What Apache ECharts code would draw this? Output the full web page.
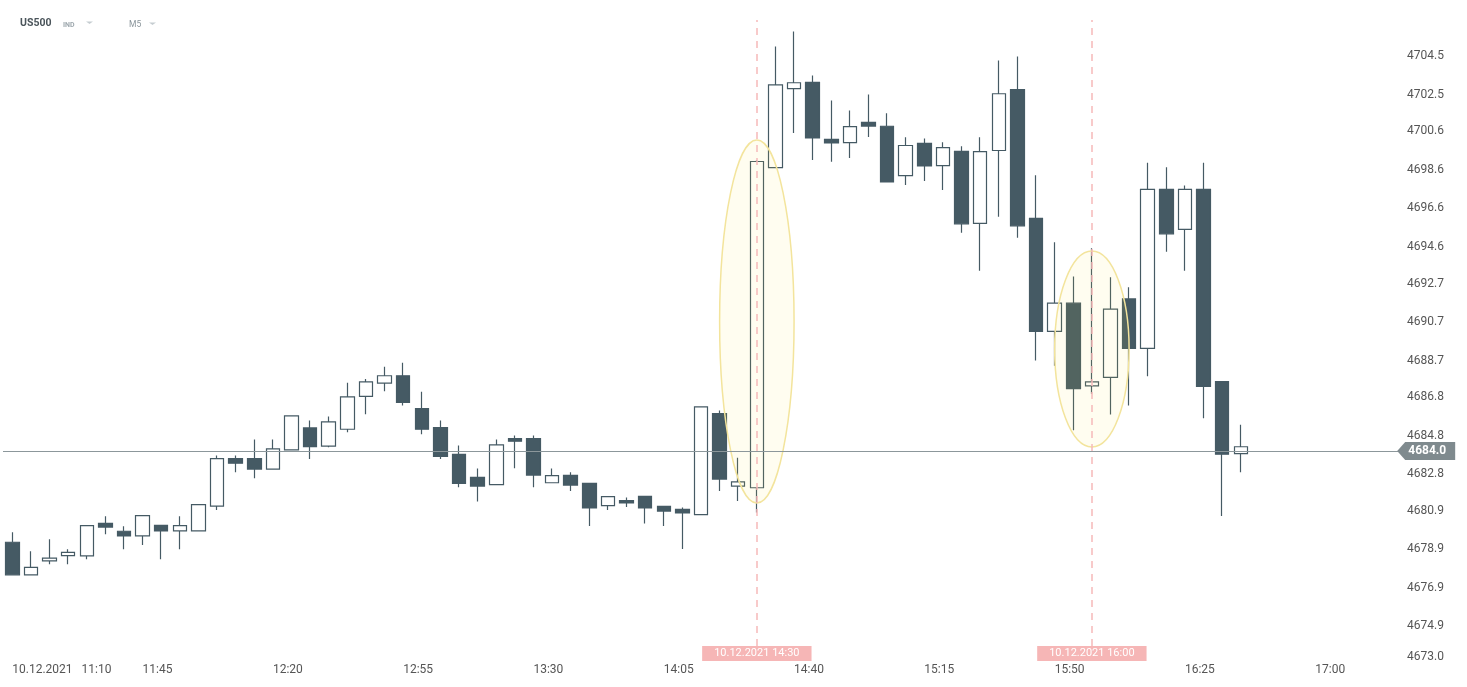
<!DOCTYPE html>
<html><head><meta charset="utf-8">
<style>html,body{margin:0;padding:0;background:#fff}#chart{width:1467px;height:687px}</style>
<script src="https://cdn.jsdelivr.net/npm/echarts@6.0.0/dist/echarts.min.js"></script>
</head><body><div id="chart"></div>
<script>
const symbolName = 'US500';
const symbolType = 'IND';
const timeframe = 'M5';
const dateLabel = '10.12.2021';

const times = [
 '11:10','11:15','11:20','11:25','11:30','11:35','11:40','11:45','11:50','11:55',
 '12:00','12:05','12:10','12:15','12:20','12:25','12:30','12:35','12:40','12:45','12:50','12:55',
 '13:00','13:05','13:10','13:15','13:20','13:25','13:30','13:35','13:40','13:45','13:50','13:55',
 '14:00','14:05','14:10','14:15','14:20','14:25','14:30','14:35','14:40','14:45','14:50','14:55',
 '15:00','15:05','15:10','15:15','15:20','15:25','15:30','15:35','15:40','15:45','15:50','15:55',
 '16:00','16:05','16:10','16:15','16:20','16:25','16:30','16:35','16:40','16:45','16:50','16:55',
 '17:00','17:05','17:10','17:15','17:20'
];

const opens = [
 4679.26,4677.57,4678.29,4678.57,4678.55,4680.24,4679.83,4679.59,4680.14,4679.85,
 4679.85,4681.14,4683.61,4683.61,4683.06,4684.06,4685.20,4684.25,4685.13,4686.84,
 4687.53,4687.91,4686.20,4685.22,4683.82,4682.63,4682.25,4684.65,4684.65,4682.35,
 4682.73,4682.32,4681.16,4681.42,4681.64,4681.12,4680.97,4680.69,4685.94,4682.18,
 4682.09,4698.72,4702.82,4703.15,4700.19,4700.02,4701.07,4700.87,4698.31,4699.98,
 4698.83,4699.57,4695.82,4699.61,4702.78,4696.08,4690.21,4691.68,4687.38,4687.82,
 4691.90,4689.33,4697.59,4695.51,4697.59,4687.60,4683.86
];
const closes = [
 4677.57,4677.95,4678.43,4678.73,4680.12,4680.05,4679.59,4680.64,4679.85,4680.12,
 4681.21,4683.60,4683.37,4683.06,4684.11,4685.82,4684.23,4685.51,4686.81,4687.59,
 4687.91,4686.53,4685.13,4683.72,4682.32,4682.18,4684.32,4684.51,4682.75,4682.72,
 4682.23,4681.04,4681.63,4681.30,4681.04,4680.88,4680.78,4686.29,4682.54,4682.40,
 4699.04,4703.02,4703.13,4700.26,4700.00,4700.85,4700.88,4697.98,4699.87,4698.81,
 4699.76,4695.80,4699.55,4702.56,4695.70,4690.21,4691.68,4687.24,4687.59,4691.37,
 4689.33,4697.59,4695.28,4697.59,4687.36,4683.83,4684.22
];
const lows = [
 4677.57,4677.57,4678.12,4678.12,4678.38,4679.67,4678.90,4679.12,4678.38,4678.90,
 4679.85,4680.93,4682.90,4682.59,4683.06,4684.06,4683.58,4684.20,4684.97,4685.91,
 4687.10,4686.37,4684.87,4683.58,4682.12,4681.38,4682.25,4683.11,4682.12,4682.35,
 4681.92,4680.10,4680.93,4681.09,4680.23,4680.10,4678.91,4680.69,4681.92,4681.40,
 4680.80,4698.72,4700.52,4699.12,4699.02,4699.22,4700.31,4697.98,4697.82,4698.03,
 4697.56,4695.34,4693.37,4696.17,4695.08,4688.70,4688.43,4685.08,4686.98,4685.89,
 4686.36,4687.88,4694.35,4693.37,4685.70,4680.62,4682.90
];
const highs = [
 4679.78,4678.79,4679.41,4678.90,4680.12,4680.61,4680.09,4680.64,4680.14,4680.61,
 4681.21,4683.77,4683.77,4684.60,4684.60,4685.82,4685.58,4685.79,4687.55,4687.74,
 4688.38,4688.59,4687.08,4685.58,4684.29,4683.09,4684.60,4684.80,4684.80,4683.09,
 4682.89,4682.32,4681.63,4681.58,4681.64,4681.12,4681.06,4686.29,4686.10,4683.65,
 4699.10,4705.01,4705.79,4703.51,4702.21,4701.69,4702.52,4701.54,4700.30,4700.24,
 4700.04,4699.83,4700.30,4704.28,4704.49,4698.33,4694.85,4693.06,4694.53,4693.03,
 4692.51,4698.98,4698.74,4697.79,4698.98,4687.60,4685.37
];

const yTicks = [4673.0,4674.9,4676.9,4678.9,4680.9,4682.8,4684.8,4686.8,4688.7,4690.7,4692.7,4694.6,4696.6,4698.6,4700.6,4702.5,4704.5];
const yMin = 4673.0;
const yMax = 4706.39;

const priceNow = 4684.0;
const markerTimes = ['14:30', '16:00'];
const markerLow = 4673.87;
const markerHigh = 4706.39;

const highlightTimes = ['14:30', '16:00'];
const highlightTop = [4700.16, 4694.39];
const highlightBottom = [4681.30, 4684.21];

const candleData = opens.map((o, i) => [o, closes[i], lows[i], highs[i]]);
const ellipseData = highlightTimes.map((t, i) => [times.indexOf(t), highlightTop[i], highlightBottom[i]]);

const FONT = 'Roboto';
const chart = echarts.init(document.getElementById('chart'), null, {renderer: 'canvas'});

chart.setOption({
  animation: false,
  backgroundColor: '#ffffff',
  grid: {left: 3, right: 68, top: 20, bottom: 24.25, containLabel: false},
  graphic: [
    {type: 'text', left: 20, top: 18, style: {text: symbolName, font: 'bold 10.5px Roboto', fill: '#4b555b'}},
    {type: 'text', left: 63, top: 21.5, style: {text: symbolType, font: 'bold 7px Roboto', fill: '#9ea8ae'}},
    {type: 'polygon', shape: {points: [[86, 21.5], [93, 21.5], [89.5, 24]]}, style: {fill: '#c6cdd1'}},
    {type: 'text', left: 129, top: 20.5, style: {text: timeframe, font: '8.5px Roboto', fill: '#8a959b'}},
    {type: 'polygon', shape: {points: [[149, 22.5], [156, 22.5], [152.5, 25]]}, style: {fill: '#c6cdd1'}}
  ],
  xAxis: {
    type: 'category',
    data: times,
    boundaryGap: true,
    axisLine: {show: false},
    axisTick: {show: false},
    splitLine: {show: false},
    axisLabel: {
      interval: 6,
      align: 'left',
      margin: 1,
      color: '#555',
      fontSize: 12,
      fontFamily: FONT,
      formatter: (v, i) => i === 0 ? dateLabel + '   ' + v : v
    }
  },
  yAxis: {
    type: 'value',
    position: 'right',
    min: yMin,
    max: yMax,
    scale: true,
    axisLine: {show: false},
    axisTick: {show: false},
    splitLine: {show: false},
    axisLabel: {
      customValues: yTicks,
      margin: 8,
      color: '#555',
      fontSize: 12,
      fontFamily: FONT,
      verticalAlignMinLabel: 'bottom',
      formatter: v => Number(v).toFixed(1)
    }
  },
  series: [
    {
      type: 'line', data: [], z: 1, clip: false, silent: true,
      markLine: {
        silent: true, symbol: ['none', 'none'],
        label: {show: false},
        lineStyle: {color: '#8c979b', width: 1, type: 'solid'},
        data: [{yAxis: priceNow}]
      },
      markPoint: {
        silent: true,
        data: [{coord: [times[times.length - 1], priceNow], value: priceNow}],
        symbol: 'path://M0,9L8,0L58,0L58,18L8,18Z',
        symbolSize: [58, 18],
        symbolKeepAspect: false,
        symbolOffset: [36.5, 0],
        itemStyle: {color: '#7f8a8e'},
        label: {show: true, position: 'inside', color: '#fff', fontSize: 12, fontWeight: 'bold', fontFamily: FONT,
          offset: [1, 0], formatter: p => Number(p.value).toFixed(1)}
      }
    },
    {
      type: 'candlestick',
      z: 2,
      data: candleData,
      barWidth: 14,
      itemStyle: {
        color: '#ffffff',
        color0: '#455a64',
        borderColor: '#455a64',
        borderColor0: '#455a64',
        borderWidth: 1.2
      }
    },
    {
      type: 'custom',
      z: 3,
      silent: true,
      data: ellipseData,
      encode: {x: 0, y: [1, 2]},
      renderItem: (params, api) => {
        const a = api.coord([api.value(0), api.value(1)]);
        const b = api.coord([api.value(0), api.value(2)]);
        const bw = api.size([1, 0])[0];
        return {
          type: 'ellipse',
          shape: {cx: a[0], cy: (a[1] + b[1]) / 2, rx: bw * 2.0, ry: (b[1] - a[1]) / 2},
          style: {fill: 'rgba(255,228,60,0.075)', stroke: '#f3e49c', lineWidth: 1.5}
        };
      }
    },
    {
      type: 'line', data: [], z: 4, clip: false, silent: true,
      markLine: {
        silent: true, symbol: ['none', 'none'],
        lineStyle: {color: '#f6b9b9', width: 1.5, type: [7, 6]},
        label: {
          show: true, position: 'start', distance: 0,
          formatter: '{b}', color: '#ffffff', fontSize: 11, fontFamily: FONT,
          backgroundColor: '#f6b6b6', padding: [1, 12, 1, 12], lineHeight: 13
        },
        data: markerTimes.map(t => [
          {name: dateLabel + ' ' + t, xAxis: t, yAxis: markerLow},
          {xAxis: t, yAxis: markerHigh}
        ])
      }
    }
  ]
});
</script>
</body></html>
